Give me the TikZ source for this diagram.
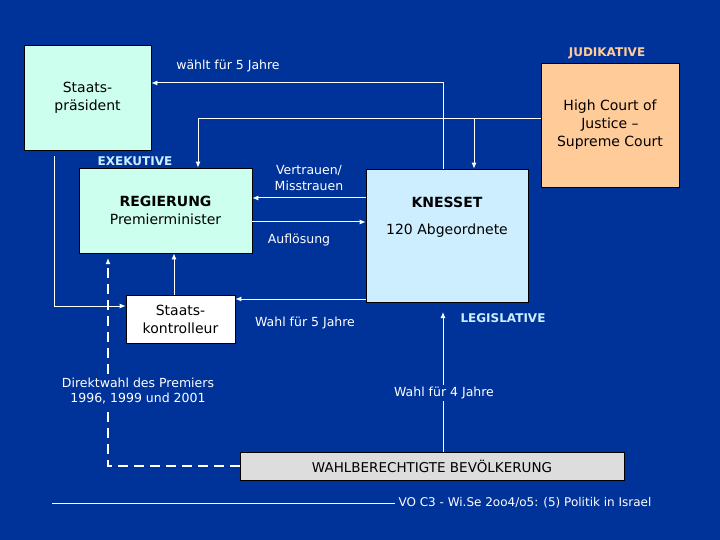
\documentclass[tikz,border=0pt]{standalone}
\usepackage{fontspec}
\setmainfont{DejaVu Sans}
\usetikzlibrary{arrows.meta}
\definecolor{bg}{HTML}{003399}
\definecolor{cyanbox}{HTML}{CCFFEE}
\definecolor{bluebox}{HTML}{CCEEFF}
\definecolor{orangebox}{HTML}{FFCC99}
\definecolor{greybox}{HTML}{DDDDDD}
\definecolor{lbl}{HTML}{CCEEFF}
\definecolor{jud}{HTML}{FFCC99}
\begin{document}
\begin{tikzpicture}[x=1pt,y=-1pt,
  box/.style={draw=black,line width=0.6pt,inner sep=0pt,align=center,font=\fontsize{14}{18}\selectfont},
  lab/.style={text=white,align=center,fill=bg,inner sep=2pt,font=\fontsize{12.5}{15.5}\selectfont},
  head/.style={font=\bfseries\fontsize{12}{14}\selectfont},
  conn/.style={draw=white,line width=1pt,-{Latex[length=6pt,width=5pt]}}]
\fill[bg] (0,0) rectangle (720,540);
\useasboundingbox (0,0) rectangle (720,540);
\node[box,fill=cyanbox,minimum width=127pt,minimum height=105pt] (sp) at (87.5,97.5) {Staats-\\präsident};
\node[box,fill=orangebox,minimum width=138pt,minimum height=124pt] (hc) at (610,125) {High Court of\\Justice –\\Supreme Court};
\node[box,fill=cyanbox,minimum width=173pt,minimum height=85pt] (reg) at (165.5,210.5) {\textbf{REGIERUNG}\\Premierminister};
\node[box,fill=bluebox,minimum width=162pt,minimum height=133pt] (kn) at (447,235.5) {};
\node[font=\bfseries\fontsize{14}{17}\selectfont] (knt) at (447,202) {KNESSET};
\node[font=\fontsize{14}{17}\selectfont] (kna) at (447,231) {120 Abgeordnete};
\node[box,fill=white,minimum width=109pt,minimum height=48pt] (sk) at (180.5,319) {Staats-\\kontrolleur};
\node[box,fill=greybox,minimum width=384pt,minimum height=28pt,font=\fontsize{13.5}{16}\selectfont] (wb) at (432,466) {WAHLBERECHTIGTE BEVÖLKERUNG};
\coordinate (a1) at (443,83);
\draw[conn] (kn.north -| a1) -- (a1) -- (sp.east |- a1);
\coordinate (a2) at (198,119);
\draw[conn] (hc.west |- a2) -- (a2) -- (reg.north -| a2);
\coordinate (a3) at (474,119);
\draw[conn] (a3) -- (kn.north -| a3);
\coordinate (a4) at (0,198);
\draw[conn] (kn.west |- a4) -- (reg.east |- a4);
\coordinate (a5) at (0,222);
\draw[conn] (reg.east |- a5) -- (kn.west |- a5);
\coordinate (a6) at (54,306);
\draw[conn] (a6 |- sp.south) ++(0,6) -- (a6) -- (sk.west |- a6);
\coordinate (a7) at (174,0);
\draw[conn] (sk.north -| a7) -- (reg.south -| a7);
\coordinate (a8) at (0,299);
\draw[conn] (kn.south west |- a8) -- (sk.east |- a8);
\coordinate (a9) at (108,466);
\draw[conn,line width=1.5pt,dash pattern=on 10pt off 6pt] (wb.west) -- (a9) -- (108,258);
\coordinate (a10) at (443,312);
\draw[conn] (wb.north -| a10) -- (a10);
\node[head,text=jud] (jt) at (607,53) {JUDIKATIVE};
\node[head,text=lbl] (et) at (135,161) {EXEKUTIVE};
\node[head,text=lbl] (lt) at (503,318) {LEGISLATIVE};
\node[lab] (l1) at (228,66) {wählt für 5 Jahre};
\node[lab] (l2) at (309,178) {Vertrauen/\\Misstrauen};
\node[lab] (l3) at (299,240) {Auflösung};
\node[lab] (l4) at (305,323) {Wahl für 5 Jahre};
\node[lab] (l5) at (138,391) {Direktwahl des Premiers\\1996, 1999 und 2001};
\node[lab] (l6) at (444,393) {Wahl für 4 Jahre};
\coordinate (f1) at (52,503);
\coordinate (f2) at (395,503);
\draw[white,line width=0.6pt] (f1) -- (f2);
\node[anchor=west,text=white,font=\fontsize{12}{14}\selectfont] (ft) at (f2) {VO C3 - Wi.Se 2oo4/o5: (5) Politik in Israel};
\end{tikzpicture}
\end{document}
